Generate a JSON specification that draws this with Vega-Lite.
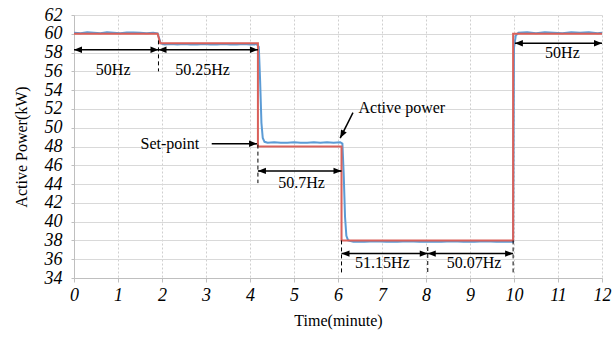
{
  "$schema": "https://vega.github.io/schema/vega-lite/v6.json",
  "width": 528,
  "height": 263,
  "autosize": "none",
  "padding": {"left": 74, "top": 15, "right": 11, "bottom": 59},
  "background": "white",
  "config": {"view": {"stroke": null}, "font": "Liberation Serif"},
  "datasets": {
    "lines": [
      {"series": "Active power", "x": 0, "y": 60.1},
      {"series": "Active power", "x": 0.15, "y": 60.05},
      {"series": "Active power", "x": 0.3, "y": 60.15},
      {"series": "Active power", "x": 0.45, "y": 60.1},
      {"series": "Active power", "x": 0.6, "y": 60.05},
      {"series": "Active power", "x": 0.75, "y": 60.15},
      {"series": "Active power", "x": 0.9, "y": 60.1},
      {"series": "Active power", "x": 1.05, "y": 60.05},
      {"series": "Active power", "x": 1.2, "y": 60.15},
      {"series": "Active power", "x": 1.35, "y": 60.15},
      {"series": "Active power", "x": 1.5, "y": 60.1},
      {"series": "Active power", "x": 1.65, "y": 60.05},
      {"series": "Active power", "x": 1.8, "y": 60.1},
      {"series": "Active power", "x": 1.9, "y": 60.05},
      {"series": "Active power", "x": 1.97, "y": 59.0},
      {"series": "Active power", "x": 2.05, "y": 58.85},
      {"series": "Active power", "x": 2.2, "y": 58.9},
      {"series": "Active power", "x": 2.35, "y": 58.85},
      {"series": "Active power", "x": 2.5, "y": 58.9},
      {"series": "Active power", "x": 2.65, "y": 58.85},
      {"series": "Active power", "x": 2.8, "y": 58.85},
      {"series": "Active power", "x": 2.95, "y": 58.9},
      {"series": "Active power", "x": 3.1, "y": 58.85},
      {"series": "Active power", "x": 3.25, "y": 58.85},
      {"series": "Active power", "x": 3.4, "y": 58.9},
      {"series": "Active power", "x": 3.55, "y": 58.85},
      {"series": "Active power", "x": 3.7, "y": 58.85},
      {"series": "Active power", "x": 3.85, "y": 58.9},
      {"series": "Active power", "x": 4.0, "y": 58.85},
      {"series": "Active power", "x": 4.15, "y": 58.9},
      {"series": "Active power", "x": 4.2, "y": 58.6},
      {"series": "Active power", "x": 4.23, "y": 55},
      {"series": "Active power", "x": 4.26, "y": 50.5},
      {"series": "Active power", "x": 4.29, "y": 48.9},
      {"series": "Active power", "x": 4.33, "y": 48.5},
      {"series": "Active power", "x": 4.4, "y": 48.4},
      {"series": "Active power", "x": 4.55, "y": 48.45},
      {"series": "Active power", "x": 4.7, "y": 48.4},
      {"series": "Active power", "x": 4.85, "y": 48.4},
      {"series": "Active power", "x": 5.0, "y": 48.45},
      {"series": "Active power", "x": 5.15, "y": 48.4},
      {"series": "Active power", "x": 5.3, "y": 48.4},
      {"series": "Active power", "x": 5.45, "y": 48.45},
      {"series": "Active power", "x": 5.6, "y": 48.4},
      {"series": "Active power", "x": 5.75, "y": 48.45},
      {"series": "Active power", "x": 5.9, "y": 48.4},
      {"series": "Active power", "x": 6.05, "y": 48.45},
      {"series": "Active power", "x": 6.1, "y": 48.3},
      {"series": "Active power", "x": 6.13, "y": 45},
      {"series": "Active power", "x": 6.16, "y": 40.5},
      {"series": "Active power", "x": 6.19, "y": 38.5},
      {"series": "Active power", "x": 6.23, "y": 38.0},
      {"series": "Active power", "x": 6.35, "y": 37.85},
      {"series": "Active power", "x": 6.6, "y": 37.85},
      {"series": "Active power", "x": 6.85, "y": 37.9},
      {"series": "Active power", "x": 7.1, "y": 37.85},
      {"series": "Active power", "x": 7.35, "y": 37.85},
      {"series": "Active power", "x": 7.6, "y": 37.9},
      {"series": "Active power", "x": 7.85, "y": 37.85},
      {"series": "Active power", "x": 8.1, "y": 37.85},
      {"series": "Active power", "x": 8.35, "y": 37.85},
      {"series": "Active power", "x": 8.6, "y": 37.9},
      {"series": "Active power", "x": 8.85, "y": 37.85},
      {"series": "Active power", "x": 9.1, "y": 37.85},
      {"series": "Active power", "x": 9.35, "y": 37.9},
      {"series": "Active power", "x": 9.6, "y": 37.85},
      {"series": "Active power", "x": 9.85, "y": 37.85},
      {"series": "Active power", "x": 9.98, "y": 37.85},
      {"series": "Active power", "x": 10.0, "y": 58.5},
      {"series": "Active power", "x": 10.04, "y": 59.8},
      {"series": "Active power", "x": 10.1, "y": 60.1},
      {"series": "Active power", "x": 10.3, "y": 60.15},
      {"series": "Active power", "x": 10.5, "y": 60.05},
      {"series": "Active power", "x": 10.7, "y": 60.15},
      {"series": "Active power", "x": 10.9, "y": 60.1},
      {"series": "Active power", "x": 11.1, "y": 60.05},
      {"series": "Active power", "x": 11.3, "y": 60.15},
      {"series": "Active power", "x": 11.5, "y": 60.1},
      {"series": "Active power", "x": 11.7, "y": 60.15},
      {"series": "Active power", "x": 11.9, "y": 60.05},
      {"series": "Active power", "x": 12, "y": 60.1},
      {"series": "Set-point", "x": 0, "y": 60},
      {"series": "Set-point", "x": 1.9, "y": 60},
      {"series": "Set-point", "x": 1.96, "y": 59},
      {"series": "Set-point", "x": 4.18, "y": 59},
      {"series": "Set-point", "x": 4.18, "y": 48},
      {"series": "Set-point", "x": 6.08, "y": 48},
      {"series": "Set-point", "x": 6.08, "y": 38},
      {"series": "Set-point", "x": 9.98, "y": 38},
      {"series": "Set-point", "x": 9.98, "y": 60},
      {"series": "Set-point", "x": 12, "y": 60}
    ],
    "spans": [
      {"start": 0, "end": 1.92, "y": 58.3},
      {"start": 1.92, "end": 4.18, "y": 58.3},
      {"start": 4.18, "end": 6.08, "y": 45.4},
      {"start": 6.08, "end": 8.04, "y": 36.6},
      {"start": 8.04, "end": 9.98, "y": 36.6},
      {"start": 10.02, "end": 12, "y": 59.0}
    ],
    "dashes": [
      {"x": 1.92, "y": 59.3, "y2": 56},
      {"x": 4.18, "y": 48.2, "y2": 44.1},
      {"x": 6.08, "y": 38, "y2": 34.5},
      {"x": 8.04, "y": 37.3, "y2": 34.5},
      {"x": 9.98, "y": 38, "y2": 34.5}
    ],
    "pointers": [
      {"name": "Set-point", "x": 4.16, "y": 48.3, "x2": 3.13, "y2": 48.3},
      {"name": "Active power", "x": 6.05, "y": 48.9, "x2": 6.34, "y2": 51.6}
    ],
    "labels": [
      {"x": 0.89, "y": 56.1, "text": "50Hz"},
      {"x": 2.92, "y": 56.1, "text": "50.25Hz"},
      {"x": 5.17, "y": 44.1, "text": "50.7Hz"},
      {"x": 7.01, "y": 35.6, "text": "51.15Hz"},
      {"x": 9.09, "y": 35.6, "text": "50.07Hz"},
      {"x": 11.1, "y": 58.0, "text": "50Hz"},
      {"x": 2.18, "y": 48.3, "text": "Set-point"},
      {"x": 7.45, "y": 52.1, "text": "Active power"}
    ]
  },
  "encoding": {
    "x": {
      "field": "x", "type": "quantitative", "title": "Time(minute)",
      "scale": {"domain": [0, 12], "nice": false, "zero": false},
      "axis": {
        "values": [0, 1, 2, 3, 4, 5, 6, 7, 8, 9, 10, 11, 12],
        "grid": true, "gridColor": "#cfcfcf", "gridDash": [2, 2], "gridWidth": 1,
        "domainColor": "#bfbfbf", "tickColor": "#bfbfbf", "tickSize": 4,
        "labelFont": "Liberation Serif", "labelFontStyle": "italic", "labelFontSize": 18,
        "labelColor": "black", "labelPadding": 4, "labelOverlap": false, "labelFlush": false,
        "titleFont": "Liberation Serif", "titleFontSize": 16, "titleFontWeight": "normal",
        "titleColor": "black", "titlePadding": 8
      }
    },
    "y": {
      "field": "y", "type": "quantitative", "title": "Active Power(kW)",
      "scale": {"domain": [34, 62], "nice": false, "zero": false},
      "axis": {
        "values": [34, 36, 38, 40, 42, 44, 46, 48, 50, 52, 54, 56, 58, 60, 62],
        "grid": true, "gridColor": "#d9d9d9", "gridWidth": 1.2,
        "domainColor": "#bfbfbf", "tickColor": "#bfbfbf", "tickSize": 3,
        "labelFont": "Liberation Serif", "labelFontStyle": "italic", "labelFontSize": 18,
        "labelColor": "black", "labelPadding": 9, "labelOverlap": false, "labelFlush": false,
        "titleFont": "Liberation Serif", "titleFontSize": 16, "titleFontWeight": "normal",
        "titleColor": "black", "titlePadding": 15
      }
    }
  },
  "layer": [
    {
      "data": {"name": "lines"},
      "mark": {"type": "line", "strokeWidth": 2},
      "encoding": {
        "color": {
          "field": "series", "type": "nominal",
          "scale": {"domain": ["Active power", "Set-point"], "range": ["#5b9bd5", "#d9605a"]},
          "legend": null
        },
        "order": {"value": null}
      }
    },
    {
      "data": {"name": "dashes"},
      "mark": {"type": "rule", "color": "black", "strokeWidth": 1, "strokeDash": [4, 3]},
      "encoding": {"y2": {"field": "y2"}}
    },
    {
      "data": {"name": "spans"},
      "transform": [{"fold": ["start", "end"], "as": ["side", "x"]}],
      "mark": {"type": "line", "color": "black", "strokeWidth": 1.5},
      "encoding": {"detail": {"field": "y", "type": "nominal"}}
    },
    {
      "data": {"name": "spans"},
      "transform": [{"fold": ["start", "end"], "as": ["side", "x"]}],
      "mark": {"type": "point", "filled": true, "color": "black", "opacity": 1, "size": 256},
      "encoding": {
        "shape": {
          "field": "side", "type": "nominal",
          "scale": {"domain": ["start", "end"], "range": ["M0,0L1,-0.4L1,0.4Z", "M0,0L-1,-0.4L-1,0.4Z"]},
          "legend": null
        }
      }
    },
    {
      "data": {"name": "pointers"},
      "mark": {"type": "rule", "color": "black", "strokeWidth": 1.5},
      "encoding": {"x2": {"field": "x2"}, "y2": {"field": "y2"}}
    },
    {
      "data": {"name": "pointers"},
      "transform": [{"filter": "datum.name === 'Set-point'"}],
      "mark": {"type": "point", "filled": true, "color": "black", "opacity": 1, "size": 256, "shape": "M0,0L-1,-0.4L-1,0.4Z"}
    },
    {
      "data": {"name": "pointers"},
      "transform": [{"filter": "datum.name === 'Active power'"}],
      "mark": {"type": "point", "filled": true, "color": "black", "opacity": 1, "size": 256, "shape": "M0,0L-1,-0.4L-1,0.4Z", "angle": 117.5}
    },
    {
      "data": {"name": "labels"},
      "mark": {"type": "text", "font": "Liberation Serif", "fontSize": 16, "color": "black", "align": "center", "baseline": "middle"},
      "encoding": {"text": {"field": "text"}}
    }
  ]
}
